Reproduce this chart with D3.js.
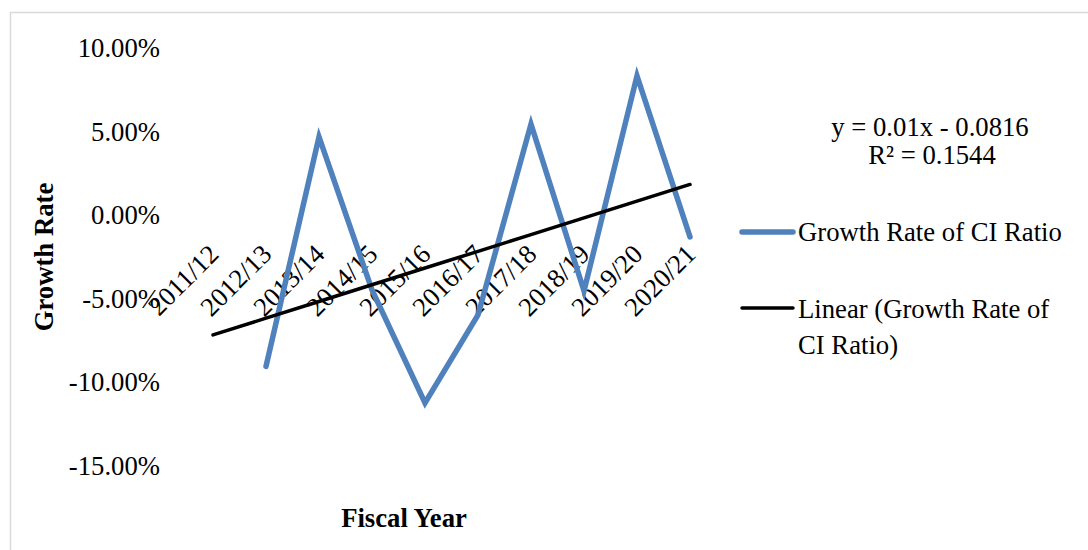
<!DOCTYPE html>
<html>
<head>
<meta charset="utf-8">
<script src="https://cdn.jsdelivr.net/npm/d3@7/dist/d3.min.js"></script>
<style>
  html, body { margin: 0; padding: 0; background: #fff; }
  svg { display: block; }
  text { font-family: "Liberation Serif", "Times New Roman", serif; fill: #000; }
</style>
</head>
<body>
<svg id="chart" width="1088" height="550"></svg>
<script>
// Fiscal years on the category axis
const years = ["2011/12", "2012/13", "2013/14", "2014/15", "2015/16",
               "2016/17", "2017/18", "2018/19", "2019/20", "2020/21"];
// Year-on-year growth rate of the CI ratio (first year has no prior year)
const growthRate = [null, -0.0904, 0.0468, -0.0447, -0.1123,
                    -0.0597, 0.0545, -0.0453, 0.0833, -0.013];
// Linear trendline fitted on category index (1-based)
const trendSlope = 0.01;
const trendIntercept = -0.0816;
const trendR2 = 0.1544;
// Value axis ticks
const yTicks = [0.10, 0.05, 0, -0.05, -0.10, -0.15];

const svg = d3.select("#chart");
const FONT = "26.7px";

// chart frame
svg.append("rect")
  .attr("x", 10.5).attr("y", 12.5)
  .attr("width", 1100).attr("height", 560)
  .attr("fill", "none").attr("stroke", "#d9d9d9").attr("stroke-width", 1.5);

const x = d3.scalePoint().domain(years).range([213, 690]);
const y = d3.scaleLinear().domain([-0.15, 0.10]).range([466, 48]);

// percent labels with a plain hyphen for negatives
const pct = d => d3.format(".2%")(d).replace("\u2212", "-");

// value axis labels
const yAxis = svg.append("g")
  .attr("transform", "translate(160,0)")
  .call(d3.axisLeft(y).tickValues(yTicks).tickFormat(pct).tickSize(0).tickPadding(0));
yAxis.select(".domain").remove();
yAxis.selectAll("text")
  .style("font-family", "Liberation Serif, serif")
  .style("font-size", FONT)
  .attr("fill", "#000");

// category labels, rotated, sitting next to the zero line
const xAxis = svg.append("g")
  .attr("transform", `translate(0,${y(0)})`)
  .call(d3.axisBottom(x).tickSize(0).tickPadding(0));
xAxis.select(".domain").remove();
xAxis.selectAll("text")
  .style("font-family", "Liberation Serif, serif")
  .style("font-size", FONT)
  .attr("fill", "#000")
  .attr("y", 0).attr("dy", "0.35em")
  .attr("text-anchor", "end")
  .attr("transform", "translate(0,34) rotate(-45)");

// growth-rate series
const line = d3.line()
  .defined(d => d.v !== null)
  .x(d => x(d.year))
  .y(d => y(d.v));
const series = years.map((yr, i) => ({ year: yr, v: growthRate[i] }));
svg.append("path")
  .datum(series)
  .attr("d", line)
  .attr("fill", "none")
  .attr("stroke", "#4f81bd")
  .attr("stroke-width", 5.5)
  .attr("stroke-linecap", "round")
  .attr("stroke-linejoin", "miter");

// linear trendline over the full category range
const trend = years.map((yr, i) => ({ year: yr, v: trendSlope * (i + 1) + trendIntercept }));
svg.append("path")
  .datum(trend)
  .attr("d", line)
  .attr("fill", "none")
  .attr("stroke", "#000")
  .attr("stroke-width", 3.5)
  .attr("stroke-linecap", "round");

// trendline equation
const eq = svg.append("g").attr("text-anchor", "middle").style("font-size", FONT);
eq.append("text").attr("x", 930).attr("y", 127).attr("dy", "0.35em")
  .text(`y = ${trendSlope}x - ${Math.abs(trendIntercept)}`);
eq.append("text").attr("x", 932).attr("y", 155).attr("dy", "0.35em")
  .text(`R² = ${trendR2}`);

// legend
const legend = svg.append("g").style("font-size", FONT);
legend.append("line").attr("x1", 742).attr("x2", 793).attr("y1", 232).attr("y2", 232)
  .attr("stroke", "#4f81bd").attr("stroke-width", 5.5).attr("stroke-linecap", "round");
legend.append("text").attr("x", 798).attr("y", 232).attr("dy", "0.35em")
  .text("Growth Rate of CI Ratio");
legend.append("line").attr("x1", 742).attr("x2", 793).attr("y1", 308).attr("y2", 308)
  .attr("stroke", "#000").attr("stroke-width", 3.5).attr("stroke-linecap", "round");
legend.append("text").attr("x", 798).attr("y", 309).attr("dy", "0.35em")
  .text("Linear (Growth Rate of");
legend.append("text").attr("x", 798).attr("y", 345).attr("dy", "0.35em")
  .text("CI Ratio)");

// axis titles
svg.append("text")
  .attr("transform", `translate(44,${(y(0.10) + y(-0.15)) / 2}) rotate(-90)`)
  .attr("text-anchor", "middle").attr("dy", "0.35em")
  .style("font-size", FONT).style("font-weight", "bold")
  .text("Growth Rate");
svg.append("text")
  .attr("x", 404).attr("y", 518).attr("dy", "0.35em")
  .attr("text-anchor", "middle")
  .style("font-size", FONT).style("font-weight", "bold")
  .text("Fiscal Year");
</script>
</body>
</html>
